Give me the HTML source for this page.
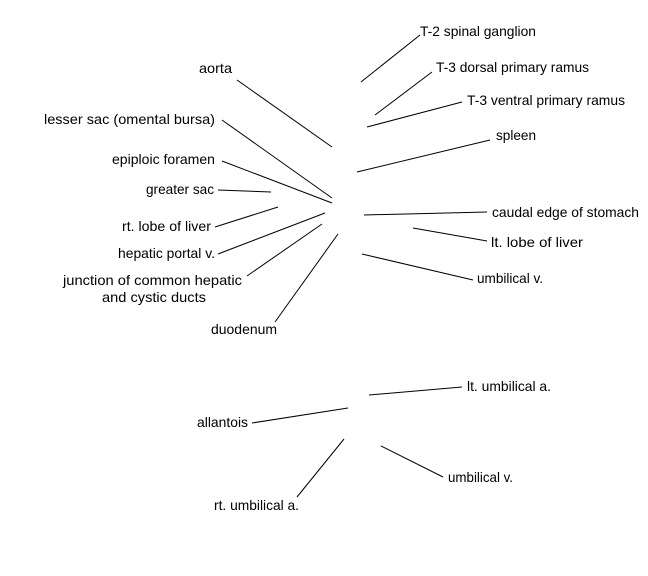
<!DOCTYPE html>
<html><head><meta charset="utf-8"><style>
html,body{margin:0;padding:0;background:#fff;}
svg{display:block;}
text{font-family:"Liberation Sans",Arial,sans-serif;font-size:14px;fill:#000;}
line{stroke:#000;stroke-width:1;}
</style></head><body>
<svg width="648" height="576" viewBox="0 0 648 576" xmlns="http://www.w3.org/2000/svg">
<text x="420" y="36" textLength="116" lengthAdjust="spacingAndGlyphs">T-2 spinal ganglion</text>
<line x1="420" y1="35" x2="361" y2="82"/>
<text x="436" y="72" textLength="153" lengthAdjust="spacingAndGlyphs">T-3 dorsal primary ramus</text>
<line x1="432" y1="72" x2="375" y2="115"/>
<text x="467" y="105" textLength="158" lengthAdjust="spacingAndGlyphs">T-3 ventral primary ramus</text>
<line x1="462" y1="102" x2="367" y2="127"/>
<text x="496" y="140" textLength="40" lengthAdjust="spacingAndGlyphs">spleen</text>
<line x1="490" y1="140" x2="357" y2="172"/>
<text x="492" y="217" textLength="147" lengthAdjust="spacingAndGlyphs">caudal edge of stomach</text>
<line x1="487" y1="212" x2="364" y2="215"/>
<text x="491" y="247" textLength="92" lengthAdjust="spacingAndGlyphs">lt. lobe of liver</text>
<line x1="487" y1="241" x2="413" y2="228"/>
<text x="477" y="283" textLength="66" lengthAdjust="spacingAndGlyphs">umbilical v.</text>
<line x1="473" y1="280" x2="362" y2="254"/>

<text x="199" y="73" textLength="33" lengthAdjust="spacingAndGlyphs">aorta</text>
<line x1="237" y1="80" x2="332" y2="147"/>
<text x="44" y="124" textLength="171" lengthAdjust="spacingAndGlyphs">lesser sac (omental bursa)</text>
<line x1="222" y1="120" x2="332" y2="198"/>
<text x="112" y="164" textLength="103" lengthAdjust="spacingAndGlyphs">epiploic foramen</text>
<line x1="222" y1="161" x2="332" y2="203"/>
<text x="146" y="194" textLength="68" lengthAdjust="spacingAndGlyphs">greater sac</text>
<line x1="218" y1="190" x2="271" y2="192"/>
<text x="122" y="231" textLength="89" lengthAdjust="spacingAndGlyphs">rt. lobe of liver</text>
<line x1="215" y1="227" x2="278" y2="207"/>
<text x="118" y="258" textLength="97" lengthAdjust="spacingAndGlyphs">hepatic portal v.</text>
<line x1="218" y1="254" x2="325" y2="213"/>
<text x="63" y="285" textLength="179" lengthAdjust="spacingAndGlyphs">junction of common hepatic</text>
<text x="102" y="302" textLength="104" lengthAdjust="spacingAndGlyphs">and cystic ducts</text>
<line x1="247" y1="276" x2="322" y2="224"/>
<text x="211" y="334" textLength="66" lengthAdjust="spacingAndGlyphs">duodenum</text>
<line x1="275" y1="322" x2="338" y2="234"/>

<text x="467" y="391" textLength="84" lengthAdjust="spacingAndGlyphs">lt. umbilical a.</text>
<line x1="462" y1="387" x2="369" y2="395"/>
<text x="197" y="427" textLength="51" lengthAdjust="spacingAndGlyphs">allantois</text>
<line x1="252" y1="423" x2="348" y2="408"/>
<text x="448" y="482" textLength="65" lengthAdjust="spacingAndGlyphs">umbilical v.</text>
<line x1="443" y1="477" x2="381" y2="446"/>
<text x="214" y="510" textLength="85" lengthAdjust="spacingAndGlyphs">rt. umbilical a.</text>
<line x1="297" y1="497" x2="344" y2="439"/>
</svg>
</body></html>
